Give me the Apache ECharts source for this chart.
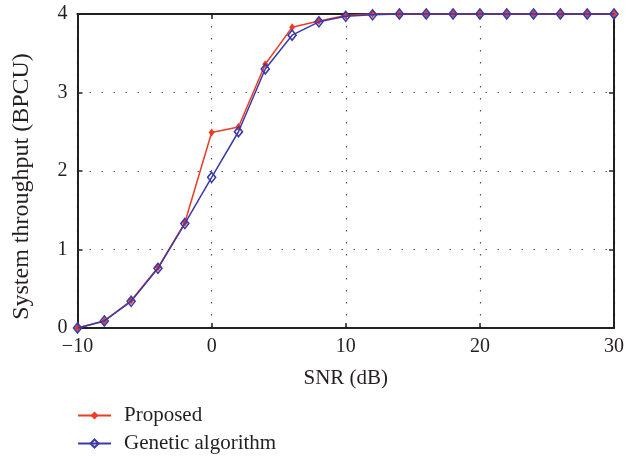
<!DOCTYPE html>
<html>
<head>
<meta charset="utf-8">
<script src="https://cdn.jsdelivr.net/npm/echarts@6/dist/echarts.min.js"></script>
<style>html,body{margin:0;padding:0;background:#fff;}#c{width:627px;height:458px;}</style>
</head>
<body>
<div id="c"></div>
<script>
const snr = [-10,-8,-6,-4,-2,0,2,4,6,8,10,12,14,16,18,20,22,24,26,28,30];
const proposed = [0,0.09,0.35,0.77,1.34,2.49,2.56,3.36,3.83,3.91,3.98,4,4,4,4,4,4,4,4,4,4];
const genetic = [0,0.09,0.34,0.76,1.33,1.92,2.50,3.30,3.73,3.90,3.97,3.99,4,4,4,4,4,4,4,4,4];
const xTicks = [-10,0,10,20,30];
const yTicks = [0,1,2,3,4];
const seriesNames = ['Proposed','Genetic algorithm'];

const FONT = 'Liberation Serif';
const TXT = '#231f20';
const RED = '#ee3b26';
const BLUE = '#3b3aa6';
const axisLine = {show:true, onZero:false, lineStyle:{color:'#231f20', width:2}};
const tick = {show:true, inside:true, length:5, lineStyle:{color:'#231f20', width:1.5}};
const split = {show:true, lineStyle:{color:'#555', width:1.2, type:[1.5,10.5]}};
const legendBase = {
  orient:'vertical', left:77, padding:0, itemWidth:33, itemHeight:10, itemGap:0,
  textStyle:{fontFamily:FONT, fontSize:21, color:TXT, padding:[0,0,0,8], lineHeight:21}
};

const chart = echarts.init(document.getElementById('c'), null, {renderer:'canvas'});
chart.setOption({
  animation:false,
  backgroundColor:'#fff',
  grid:{left:77.5, right:11, top:14, bottom:130, containLabel:false},
  legend:[
    Object.assign({}, legendBase, {top:405, data:[seriesNames[0]]}),
    Object.assign({}, legendBase, {top:433, data:[seriesNames[1]]})
  ],
  xAxis:[{
    type:'value', min:xTicks[0], max:xTicks[xTicks.length-1], interval:10,
    name:'SNR (dB)', nameLocation:'middle', nameGap:39.5,
    nameTextStyle:{fontFamily:FONT, fontSize:21, color:TXT},
    axisLine:axisLine, axisTick:tick, splitLine:split,
    axisLabel:{fontFamily:FONT, fontSize:20, color:TXT, margin:9,
      formatter:v=>v<0?'\u2212'+Math.abs(v):String(v)}
  },{
    type:'value', position:'top', min:xTicks[0], max:xTicks[xTicks.length-1], interval:10,
    axisLine:axisLine, axisTick:tick, splitLine:{show:false}, axisLabel:{show:false}
  }],
  yAxis:[{
    type:'value', min:yTicks[0], max:yTicks[yTicks.length-1], interval:1,
    name:'System throughput (BPCU)', nameLocation:'middle', nameGap:44,
    nameTextStyle:{fontFamily:FONT, fontSize:24, color:TXT, padding:[0,31,0,0]},
    axisLine:axisLine, axisTick:tick, splitLine:split,
    axisLabel:{fontFamily:FONT, fontSize:20, color:TXT, margin:10}
  },{
    type:'value', position:'right', min:yTicks[0], max:yTicks[yTicks.length-1], interval:1,
    axisLine:axisLine, axisTick:tick, splitLine:{show:false}, axisLabel:{show:false}
  }],
  series:[{
    name:seriesNames[0], type:'line', clip:false,
    data:snr.map((x,i)=>[x,proposed[i]]),
    symbol:'diamond', symbolSize:[6,8],
    itemStyle:{color:RED, borderWidth:0},
    lineStyle:{color:RED, width:1.5}, z:2
  },{
    name:seriesNames[1], type:'line', clip:false,
    data:snr.map((x,i)=>[x,genetic[i]]),
    symbol:'diamond', symbolSize:[8,10],
    itemStyle:{color:'rgba(0,0,0,0)', borderColor:BLUE, borderWidth:1.6},
    lineStyle:{color:BLUE, width:1.5}, z:3
  }]
});
</script>
</body>
</html>
